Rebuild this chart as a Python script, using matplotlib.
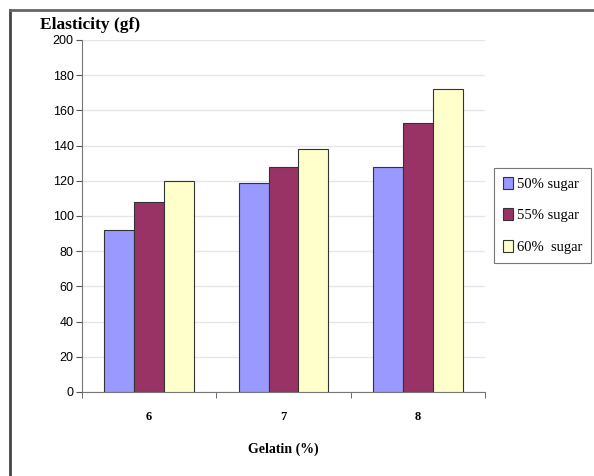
import numpy as np
import matplotlib.pyplot as plt
from matplotlib.lines import Line2D

# data
gelatin = ['6', '7', '8']
sugar_50 = [92, 119, 128]
sugar_55 = [108, 128, 153]
sugar_60 = [120, 138, 172]
series_labels = ['50% sugar', '55% sugar', '60%  sugar']
colors = ['#9999FF', '#993366', '#FFFFCC']

fig = plt.figure(figsize=(5.94, 4.76), dpi=100)
ax = fig.add_axes([82/594, 1-392/476, 403/594, 352/476])

x = np.arange(len(gelatin))
w = 0.222
for i, (vals, c, lab) in enumerate(zip([sugar_50, sugar_55, sugar_60], colors, series_labels)):
    ax.bar(x + (i-1)*w, vals, w, color=c, edgecolor='#333333', linewidth=0.8, label=lab, zorder=3)

ax.set_xlim(-0.5, 2.5)
ax.set_ylim(0, 200)
ax.set_yticks(range(0, 201, 20))
ax.set_xticks(x)
ax.set_xticklabels(gelatin, family='Liberation Serif', fontweight='bold', fontsize=9)
ax.set_xticks([-0.5, 0.5, 1.5, 2.5], minor=True)
ax.tick_params(axis='x', which='major', length=0, pad=14)
ax.tick_params(axis='x', which='minor', length=4, color='#555555', direction='out')
ax.tick_params(axis='y', length=4, color='#555555', labelsize=9, pad=2)
for t in ax.get_yticklabels():
    t.set_family('Liberation Sans')
ax.grid(axis='y', color='#e6e6e6', linewidth=1, zorder=0)
for s in ['top', 'right']:
    ax.spines[s].set_visible(False)
ax.spines['left'].set_color('#777777')
ax.spines['bottom'].set_color('#777777')

ax.set_xlabel('Gelatin (%)', family='Liberation Serif', fontweight='bold', fontsize=10, labelpad=14)
fig.text(40/594, 1-25/476, 'Elasticity (gf)', family='Liberation Serif', fontweight='bold',
         fontsize=12.5, va='center', ha='left')

leg = fig.legend(loc='upper left', bbox_to_anchor=(494/594, 1-168/476), frameon=True,
                 prop={'family': 'Liberation Serif', 'size': 10.5}, handlelength=0.7,
                 handleheight=0.9, handletextpad=0.3, borderpad=0.6, labelspacing=1.2,
                 fancybox=False, borderaxespad=0)
leg.get_frame().set_edgecolor('#555555')
leg.get_frame().set_linewidth(0.8)

# outer frame lines
fig.add_artist(Line2D([10/594, 10/594], [0, 1-10/476], color='#444444', linewidth=2))
fig.add_artist(Line2D([10/594, 1], [1-10/476, 1-10/476], color='#666666', linewidth=2))

fig.savefig('out.png', dpi=100)
